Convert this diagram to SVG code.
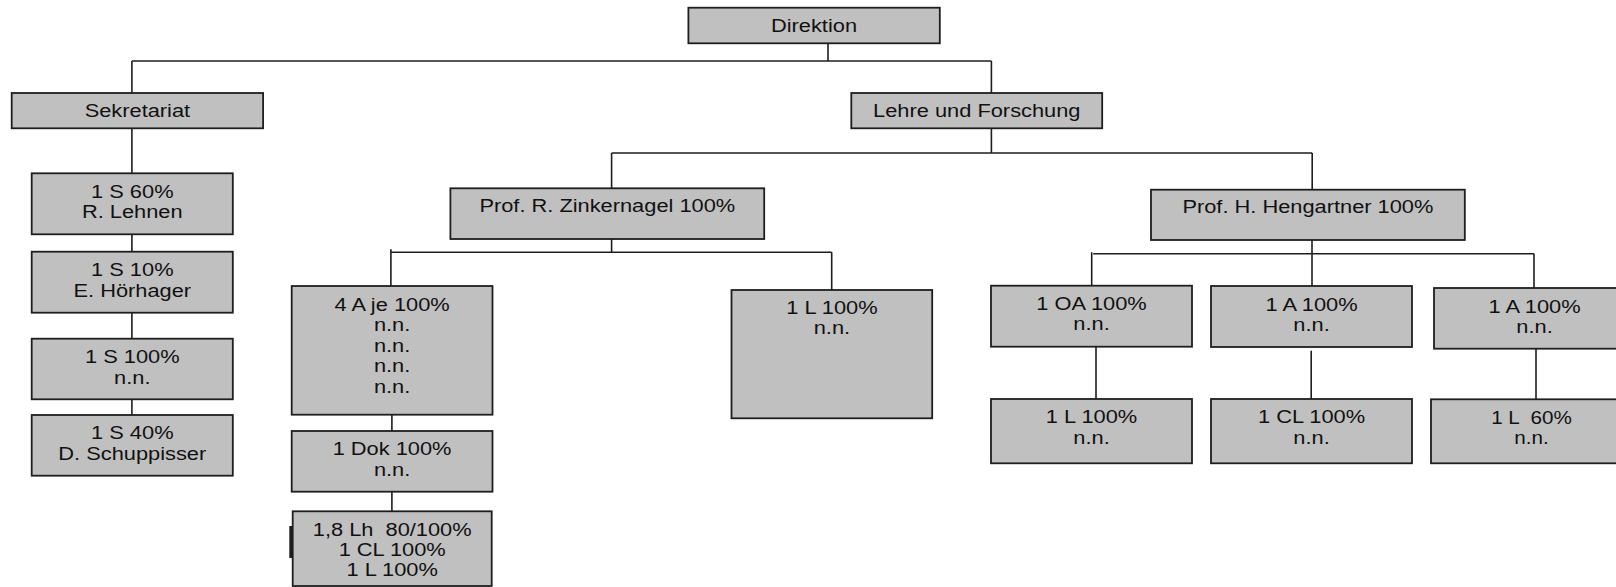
<svg xmlns="http://www.w3.org/2000/svg" width="1616" height="587" viewBox="0 0 1616 587">
<style>
.b{fill:#c0c0c0;stroke:#1e1e1e;stroke-width:1.8}
.c{fill:none;stroke:#1e1e1e;stroke-width:1.6}
text{font-family:"Liberation Sans",Arial,sans-serif;font-size:18.5px;fill:#111;text-anchor:middle;white-space:pre}
.s{font-size:17.5px}
</style>
<rect width="1616" height="587" fill="#fff"/>
<g id="connectors">
<path class="c" d="M828 43.3V61M131.9 61H991.4M131.9 61V93M991.4 61V93"/>
<path class="c" d="M131.9 128.3V173.3M131.9 234.3V251.7M131.9 312.7V338.7M131.9 399.3V415"/>
<path class="c" d="M991.4 128.3V153M611.6 153H1312.2M611.6 153V188.3M1312.2 153V189.7"/>
<path class="c" d="M611.6 239V252.3M390.9 252.3H831.7M390.9 249.3V286M831.7 252.3V290"/>
<path class="c" d="M391.9 414.7V431M391.9 491.7V511.3"/>
<path class="c" d="M1312 240V286M1093.2 253.7H1534M1091.7 252.3V285.7M1534 253.7V288"/>
<path class="c" d="M1096 346.7V399M1311.2 350.7V399M1536 348.7V399.3"/>
</g>
<g id="direktion"><rect class="b" x="688.4" y="7.7" width="251.4" height="35.6"/><text transform="translate(814,32.3) scale(1.18,1)">Direktion</text></g>
<g id="sekretariat"><rect class="b" x="11.7" y="93" width="251.4" height="35.3"/><text transform="translate(137.4,117.3) scale(1.18,1)">Sekretariat</text></g>
<g id="lehre"><rect class="b" x="851.3" y="93" width="250.9" height="35.3"/><text transform="translate(976.8,117.3) scale(1.18,1)">Lehre und Forschung</text></g>
<g id="zinkernagel"><rect class="b" x="450.4" y="188.3" width="313.8" height="50.7"/><text transform="translate(607.3,212.3) scale(1.18,1)">Prof. R. Zinkernagel 100%</text></g>
<g id="hengartner"><rect class="b" x="1151" y="189.7" width="313.8" height="50.3"/><text transform="translate(1307.9,213.3) scale(1.18,1)">Prof. H. Hengartner 100%</text></g>
<g id="s60"><rect class="b" x="31.7" y="173.3" width="201.1" height="61"/><text transform="translate(132.3,198) scale(1.18,1)"><tspan x="0">1 S 60%</tspan><tspan x="0" dy="20.5">R. Lehnen</tspan></text></g>
<g id="s10"><rect class="b" x="31.7" y="251.7" width="201.1" height="61"/><text transform="translate(132.3,276.4) scale(1.18,1)"><tspan x="0">1 S 10%</tspan><tspan x="0" dy="20.5">E. Hörhager</tspan></text></g>
<g id="s100"><rect class="b" x="31.7" y="338.7" width="201.1" height="60.6"/><text transform="translate(132.3,363.3) scale(1.18,1)"><tspan x="0">1 S 100%</tspan><tspan x="0" dy="20.5">n.n.</tspan></text></g>
<g id="s40"><rect class="b" x="31.7" y="415" width="201.1" height="60.7"/><text transform="translate(132.3,439.3) scale(1.18,1)"><tspan x="0">1 S 40%</tspan><tspan x="0" dy="20.5">D. Schuppisser</tspan></text></g>
<g id="a4"><rect class="b" x="291.7" y="286" width="200.8" height="128.7"/><text transform="translate(392.1,310.7) scale(1.18,1)"><tspan x="0">4 A je 100%</tspan><tspan x="0" dy="20.5">n.n.</tspan><tspan x="0" dy="20.5">n.n.</tspan><tspan x="0" dy="20.5">n.n.</tspan><tspan x="0" dy="20.5">n.n.</tspan></text></g>
<g id="dok"><rect class="b" x="291.7" y="431" width="200.8" height="60.7"/><text transform="translate(392.1,455.3) scale(1.18,1)"><tspan x="0">1 Dok 100%</tspan><tspan x="0" dy="20.5">n.n.</tspan></text></g>
<g id="lh"><rect class="b" x="292.7" y="511.3" width="199" height="74.7"/><rect x="289.3" y="526" width="3" height="32" fill="#1e1e1e"/><text transform="translate(392.2,535.5) scale(1.18,1)"><tspan x="0">1,8 Lh  80/100%</tspan><tspan x="0" dy="20.5">1 CL 100%</tspan><tspan x="0" dy="20.5">1 L 100%</tspan></text></g>
<g id="l100z"><rect class="b" x="731.5" y="290" width="200.7" height="128.3"/><text transform="translate(831.9,314) scale(1.18,1)"><tspan x="0">1 L 100%</tspan><tspan x="0" dy="20.5">n.n.</tspan></text></g>
<g id="oa"><rect class="b" x="991" y="285.7" width="201" height="61"/><text transform="translate(1091.5,310) scale(1.18,1)"><tspan x="0">1 OA 100%</tspan><tspan x="0" dy="20.5">n.n.</tspan></text></g>
<g id="a1m"><rect class="b" x="1211" y="286" width="201" height="61"/><text transform="translate(1311.5,310.5) scale(1.18,1)"><tspan x="0">1 A 100%</tspan><tspan x="0" dy="20.5">n.n.</tspan></text></g>
<g id="a1r"><rect class="b" x="1434" y="288" width="201" height="60.7"/><text transform="translate(1534.5,312.7) scale(1.18,1)"><tspan x="0">1 A 100%</tspan><tspan x="0" dy="20.5">n.n.</tspan></text></g>
<g id="l100h"><rect class="b" x="991" y="399" width="201" height="64.3"/><text transform="translate(1091.5,423.3) scale(1.18,1)"><tspan x="0">1 L 100%</tspan><tspan x="0" dy="20.5">n.n.</tspan></text></g>
<g id="cl"><rect class="b" x="1211" y="399" width="201" height="64.3"/><text transform="translate(1311.5,423.3) scale(1.18,1)"><tspan x="0">1 CL 100%</tspan><tspan x="0" dy="20.5">n.n.</tspan></text></g>
<g id="l60"><rect class="b" x="1431" y="399.3" width="201" height="64"/><text class="s" transform="translate(1531.5,424) scale(1.18,1)"><tspan x="0">1 L  60%</tspan><tspan x="0" dy="20.5">n.n.</tspan></text></g>
</svg>
